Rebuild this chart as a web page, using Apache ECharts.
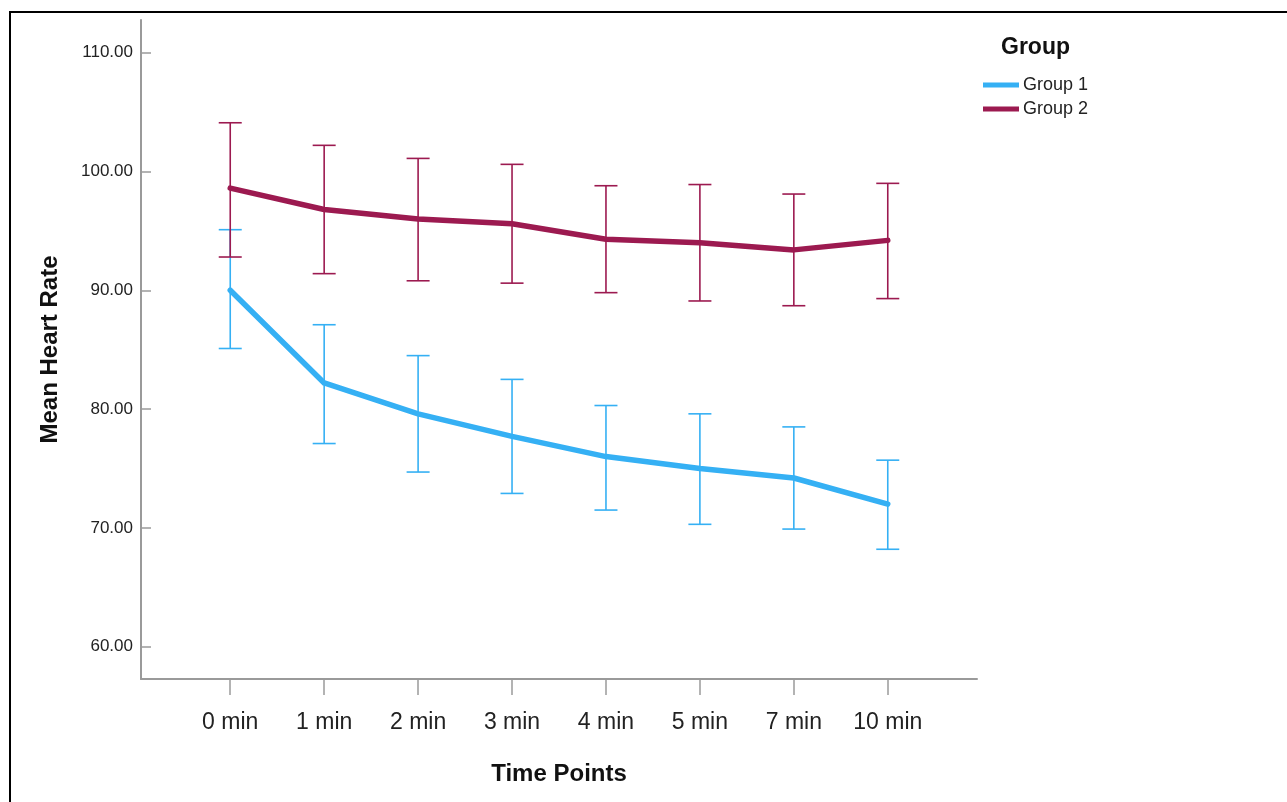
<!DOCTYPE html>
<html>
<head>
<meta charset="utf-8">
<script src="https://cdn.jsdelivr.net/npm/echarts@6/dist/echarts.min.js"></script>
<style>
  html, body { margin: 0; padding: 0; background: #ffffff; }
  #frame { position: absolute; left: 9px; top: 11px; width: 1300px; height: 820px; border-left: 2px solid #000; border-top: 2px solid #000; box-sizing: border-box; }
  #chart { position: absolute; left: 0; top: 0; width: 1287px; height: 802px; }
</style>
</head>
<body>
<div id="frame"></div>
<div id="chart"></div>
<script>
const categories = ['0 min', '1 min', '2 min', '3 min', '4 min', '5 min', '7 min', '10 min'];
const group1Mean  = [90.0, 82.2, 79.6, 77.7, 76.0, 75.0, 74.2, 72.0];
const group1Upper = [95.1, 87.1, 84.5, 82.5, 80.3, 79.6, 78.5, 75.7];
const group1Lower = [85.1, 77.1, 74.7, 72.9, 71.5, 70.3, 69.9, 68.2];
const group2Mean  = [98.6, 96.8, 96.0, 95.6, 94.3, 94.0, 93.4, 94.2];
const group2Upper = [104.1, 102.2, 101.1, 100.6, 98.8, 98.9, 98.1, 99.0];
const group2Lower = [92.8, 91.4, 90.8, 90.6, 89.8, 89.1, 88.7, 89.3];
const yTicks = [60, 70, 80, 90, 100, 110];
const seriesNames = ['Group 1', 'Group 2'];
const legendTitle = 'Group';
const xTitle = 'Time Points';
const yTitle = 'Mean Heart Rate';

const colors = ['#35B0F4', '#9C1A50'];
const font = '"Liberation Sans", Arial, sans-serif';
const xIdx = categories.map((c, i) => i);

function errorSeries(name, lower, upper, color) {
  return {
    type: 'custom',
    name: name,
    z: 2,
    itemStyle: { color: color },
    data: xIdx.map(i => [i, lower[i], upper[i]]),
    encode: { x: 0, y: [1, 2] },
    renderItem: function (params, api) {
      const x = api.value(0);
      const top = api.coord([x, api.value(2)]);
      const bot = api.coord([x, api.value(1)]);
      const hw = 11.5;
      const st = { stroke: color, lineWidth: 1.6 };
      return {
        type: 'group',
        children: [
          { type: 'line', shape: { x1: top[0], y1: top[1], x2: bot[0], y2: bot[1] }, style: st },
          { type: 'line', shape: { x1: top[0] - hw, y1: top[1], x2: top[0] + hw, y2: top[1] }, style: st },
          { type: 'line', shape: { x1: bot[0] - hw, y1: bot[1], x2: bot[0] + hw, y2: bot[1] }, style: st }
        ]
      };
    }
  };
}

function meanSeries(name, mean, color) {
  return {
    type: 'line',
    name: name,
    z: 3,
    data: xIdx.map(i => [i, mean[i]]),
    symbol: 'none',
    lineStyle: { color: color, width: 5.5, join: 'round', cap: 'round' },
    itemStyle: { color: color },
    animation: false
  };
}

const chart = echarts.init(document.getElementById('chart'), null, { renderer: 'canvas' });
chart.setOption({
  animation: false,
  color: colors,
  backgroundColor: 'transparent',
  textStyle: { fontFamily: font },
  title: {
    text: legendTitle,
    left: 996,
    top: 31,
    textStyle: { fontFamily: font, fontSize: 23, fontWeight: 'bold', color: '#111' }
  },
  legend: {
    data: seriesNames.map((n, i) => ({ name: n, icon: 'rect', itemStyle: { color: colors[i] } })),
    orient: 'vertical',
    left: 978,
    top: 71,
    itemWidth: 36,
    itemHeight: 5,
    itemGap: 6,
    textStyle: { fontFamily: font, fontSize: 18, color: '#222', padding: [0, 0, 0, -1] }
  },
  grid: { left: 141, top: 20, right: 310, bottom: 123, containLabel: false },
  xAxis: {
    type: 'value',
    min: -0.95,
    max: 7.95,
    name: xTitle,
    nameLocation: 'middle',
    nameGap: 83,
    nameTextStyle: { fontFamily: font, fontSize: 24, fontWeight: 'bold', color: '#111' },
    axisLine: { show: true, onZero: false, lineStyle: { color: '#9a9a9a', width: 2 } },
    axisTick: { show: true, customValues: xIdx, length: 16, inside: false, lineStyle: { color: '#9a9a9a', width: 1.5 } },
    axisLabel: {
      customValues: xIdx,
      formatter: v => categories[Math.round(v)],
      margin: 32,
      fontFamily: font,
      fontSize: 23,
      color: '#222'
    },
    splitLine: { show: false }
  },
  yAxis: {
    type: 'value',
    min: 57.28,
    max: 112.75,
    name: yTitle,
    nameLocation: 'middle',
    nameGap: 79,
    nameRotate: 90,
    nameTextStyle: { fontFamily: font, fontSize: 24, fontWeight: 'bold', color: '#111' },
    axisLine: { show: true, onZero: false, lineStyle: { color: '#9a9a9a', width: 2 } },
    axisTick: { show: true, customValues: yTicks, length: 10, inside: true, lineStyle: { color: '#9a9a9a', width: 1.5 } },
    axisLabel: {
      customValues: yTicks,
      formatter: v => Number(v).toFixed(2),
      margin: 8,
      fontFamily: font,
      fontSize: 17,
      color: '#222'
    },
    splitLine: { show: false }
  },
  series: [
    errorSeries(seriesNames[0], group1Lower, group1Upper, colors[0]),
    errorSeries(seriesNames[1], group2Lower, group2Upper, colors[1]),
    meanSeries(seriesNames[0], group1Mean, colors[0]),
    meanSeries(seriesNames[1], group2Mean, colors[1])
  ]
});
</script>
</body>
</html>
